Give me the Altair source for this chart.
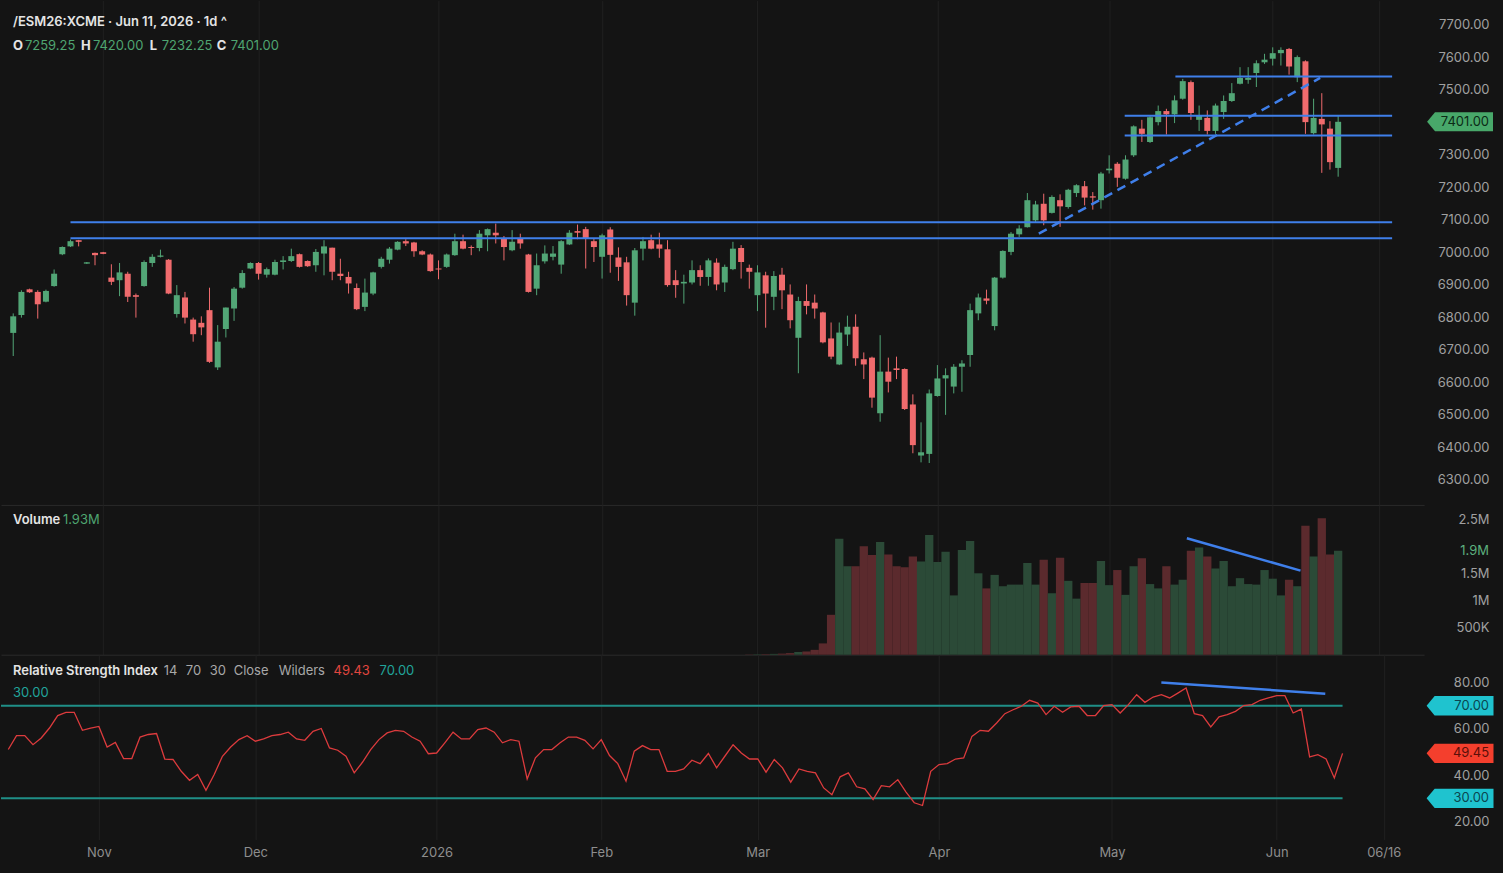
import altair as alt
import pandas as pd

# ---------------- data ----------------
opens = [6752, 6807, 6886, 6878, 6848, 6896, 6994, 7018, 7037, 6965,
         6998, 7000, 6922, 6914, 6934, 6868, 6896, 6967, 6986, 6977,
         6810, 6861, 6793, 6783, 6822, 6646, 6764, 6827, 6891, 6950,
         6967, 6931, 6931, 6970, 6973, 6994, 6973, 6960, 6996, 7014,
         6934, 6924, 6890, 6832, 6873, 6955, 6977, 7008, 7034, 7030,
         7003, 6993, 6950, 6955, 6991, 7034, 7016, 7013, 7052, 7060,
         7042, 7006, 7044, 6993, 6888, 6972, 6986, 6962, 7024, 7065,
         7071, 7034, 6986, 7070, 6984, 6969, 6845, 7011, 7037, 7024,
         7009, 6914, 6904, 6907, 6945, 6924, 6968, 6907, 6948, 7013,
         6952, 6868, 6929, 6863, 6931, 6870, 6737, 6850, 6845, 6815,
         6735, 6655, 6747, 6771, 6671, 6676, 6505, 6633, 6643, 6641,
         6532, 6375, 6380, 6558, 6612, 6587, 6648, 6684, 6812, 6858,
         6773, 6922, 7001, 7055, 7077, 7098, 7149, 7121, 7160, 7139,
         7182, 7203, 7172, 7160, 7252, 7272, 7226, 7298, 7380, 7339,
         7400, 7434, 7424, 7472, 7523, 7407, 7413, 7373, 7431, 7465,
         7518, 7530, 7551, 7584, 7595, 7612, 7625, 7538, 7587, 7366,
         7410, 7380, 7259.25]
highs = [6812, 6883, 6888, 6883, 6885, 6947, 7018, 7039, 7038, 6970,
         6999, 7001, 6963, 6967, 6940, 6873, 6975, 6994, 7008, 6979,
         6899, 6878, 6799, 6803, 6891, 6776, 6830, 6893, 6945, 6969,
         6970, 6953, 6977, 6988, 7011, 6996, 6975, 7010, 7037, 7014,
         6980, 6940, 6904, 6919, 6940, 6986, 7016, 7034, 7040, 7032,
         7006, 6996, 6975, 6996, 7057, 7054, 7021, 7068, 7073, 7088,
         7050, 7068, 7057, 6995, 6996, 7021, 7019, 7037, 7068, 7085,
         7078, 7042, 7057, 7077, 7015, 6986, 7013, 7047, 7054, 7060,
         7037, 6945, 6931, 6975, 6960, 6981, 6981, 6962, 7032, 7022,
         6962, 6960, 6940, 6942, 6952, 6901, 6863, 6901, 6870, 6817,
         6784, 6784, 6805, 6809, 6692, 6679, 6745, 6676, 6679, 6643,
         6563, 6477, 6578, 6653, 6643, 6656, 6668, 6842, 6873, 6885,
         6924, 7006, 7062, 7083, 7182, 7158, 7180, 7175, 7178, 7195,
         7209, 7219, 7185, 7247, 7298, 7277, 7298, 7390, 7407, 7418,
         7451, 7441, 7482, 7533, 7528, 7451, 7436, 7457, 7482, 7520,
         7569, 7569, 7590, 7610, 7630, 7630, 7628, 7605, 7590, 7472,
         7489, 7403, 7420.00]
lows = [6681, 6799, 6875, 6796, 6846, 6894, 6991, 7016, 7018, 6964,
        6960, 6994, 6899, 6865, 6847, 6799, 6894, 6955, 6984, 6871,
        6799, 6781, 6725, 6745, 6660, 6638, 6738, 6789, 6888, 6948,
        6916, 6922, 6929, 6947, 6970, 6953, 6955, 6940, 6929, 6914,
        6914, 6873, 6822, 6819, 6868, 6950, 6965, 7006, 7019, 6986,
        6991, 6940, 6917, 6952, 6989, 7009, 6991, 7003, 7003, 7027,
        6975, 7003, 7011, 6876, 6868, 6965, 6975, 6934, 7022, 7040,
        6950, 6970, 6919, 6937, 6912, 6836, 6805, 6975, 7009, 6983,
        6894, 6860, 6842, 6901, 6897, 6897, 6883, 6878, 6945, 6919,
        6888, 6819, 6768, 6822, 6825, 6766, 6628, 6809, 6796, 6720,
        6671, 6653, 6712, 6651, 6610, 6522, 6479, 6569, 6610, 6515,
        6382, 6354, 6352, 6556, 6500, 6566, 6571, 6648, 6791, 6840,
        6760, 6919, 6991, 7047, 7076, 7093, 7083, 7119, 7078, 7134,
        7170, 7144, 7131, 7134, 7242, 7201, 7223, 7293, 7339, 7336,
        7390, 7362, 7397, 7469, 7407, 7373, 7362, 7364, 7410, 7462,
        7516, 7518, 7508, 7579, 7574, 7574, 7546, 7523, 7364, 7362,
        7244, 7254, 7232.25]
closes = [6803, 6878, 6877, 6840, 6881, 6934, 7016, 7034, 7032, 6969,
          6991, 6995, 6909, 6938, 6863, 6863, 6970, 6986, 6990, 6873,
          6868, 6799, 6748, 6769, 6663, 6725, 6830, 6888, 6936, 6967,
          6934, 6948, 6970, 6975, 6988, 6955, 6957, 7001, 7018, 6940,
          6927, 6904, 6825, 6876, 6938, 6980, 7011, 7032, 7027, 7003,
          6993, 6942, 6947, 6993, 7034, 7011, 7013, 7057, 7071, 7052,
          7016, 7032, 7027, 6878, 6960, 6996, 6996, 7034, 7060, 7060,
          7042, 7016, 7052, 6992, 6955, 6868, 7006, 7034, 7011, 7011,
          6899, 6899, 6909, 6945, 6924, 6975, 6901, 6955, 7011, 6970,
          6940, 6938, 6873, 6927, 6883, 6791, 6850, 6835, 6827, 6723,
          6679, 6753, 6771, 6674, 6655, 6553, 6633, 6602, 6638, 6518,
          6407, 6385, 6566, 6612, 6622, 6648, 6658, 6822, 6861, 6851,
          6922, 7004, 7057, 7073, 7160, 7147, 7098, 7170, 7141, 7192,
          7206, 7168, 7168, 7242, 7257, 7229, 7285, 7387, 7364, 7415,
          7434, 7424, 7467, 7526, 7428, 7421, 7373, 7451, 7465, 7489,
          7536, 7536, 7581, 7592, 7612, 7622, 7571, 7600, 7400, 7413,
          7393, 7277, 7401.00]

vol_first_bar = 90
volumes_m = [0.005, 0.008, 0.01, 0.015, 0.02, 0.03, 0.05, 0.06, 0.09, 0.21,
             0.74, 2.15, 1.64, 1.64, 2.01, 1.85, 2.09, 1.86, 1.64, 1.62,
             1.82, 1.73, 2.22, 1.72, 1.91, 1.10, 1.94, 2.11, 1.51, 1.23,
             1.48, 1.27, 1.30, 1.30, 1.70, 1.30, 1.76, 1.14, 1.80, 1.37,
             1.04, 1.33, 1.33, 1.74, 1.29, 1.57, 1.11, 1.64, 1.79, 1.31,
             1.23, 1.64, 1.30, 1.39, 1.93, 1.99, 1.82, 1.60, 1.74, 1.27,
             1.42, 1.31, 1.30, 1.57, 1.41, 1.10, 1.39, 1.27, 2.39, 1.82,
             2.53, 1.86, 1.93]

rsi_values = [51.1, 57.1, 57.1, 53.2, 56.1, 60.4, 65.8, 67.2, 67.2, 59.4,
              60.4, 61.1, 52.2, 54.2, 47.2, 47.2, 56.5, 57.6, 58.0, 47.0,
              46.8, 41.7, 37.8, 40.3, 33.5, 40.3, 48.2, 52.2, 55.4, 57.1,
              54.7, 55.7, 57.1, 57.6, 58.6, 55.7, 55.1, 59.0, 60.2, 51.8,
              50.8, 48.2, 41.0, 45.6, 51.1, 55.4, 58.3, 59.4, 59.0, 56.5,
              54.7, 49.3, 49.6, 54.0, 58.6, 55.7, 55.7, 59.7, 60.4, 58.6,
              54.0, 55.4, 54.7, 38.4, 47.5, 51.1, 51.1, 54.0, 56.5, 56.5,
              55.1, 51.4, 55.4, 48.5, 45.0, 37.4, 50.4, 52.8, 51.1, 51.1,
              41.7, 41.7, 42.7, 46.5, 45.0, 49.4, 43.2, 48.2, 53.2, 49.6,
              47.0, 47.0, 41.3, 46.8, 43.2, 37.0, 42.7, 41.7, 41.0, 34.5,
              31.6, 39.3, 41.0, 35.0, 34.1, 29.5, 35.5, 35.0, 38.1, 32.7,
              28.1, 26.9, 41.7, 44.6, 45.0, 47.0, 47.5, 56.8, 59.4, 59.0,
              62.6, 66.6, 68.3, 69.8, 72.4, 71.2, 66.2, 69.8, 67.2, 69.5,
              69.8, 65.8, 65.8, 70.1, 70.5, 66.9, 70.5, 74.8, 71.5, 73.8,
              74.8, 73.4, 75.5, 77.7, 66.6, 65.8, 60.9, 65.2, 66.2, 67.6,
              70.1, 70.5, 72.4, 73.4, 74.4, 74.4, 66.9, 68.6, 47.9, 48.9,
              47.0, 38.8, 49.45]

tick_idx = [11, 30, 52, 72, 91, 113, 134, 154, 167]
tick_lbl = ["Nov", "Dec", "2026", "Feb", "Mar", "Apr", "May", "Jun", "06/16"]
price_ticks = [6300, 6400, 6500, 6600, 6700, 6800, 6900, 7000, 7100, 7200,
               7300, 7400, 7500, 7600, 7700]
vol_ticks = [500000, 1000000, 1500000, 2500000]
rsi_ticks = [20, 40, 60, 80]

# drawn support / resistance lines
level_price = [7540, 7420, 7359, 7092, 7043]
level_start = [142.1, 135.9, 135.9, 7.0, 7.0]
level_end = [168.6, 168.6, 168.6, 168.6, 168.6]
dash_x = [125.4, 159.8]
dash_p = [7057, 7536]
vol_trend_x = [143.5, 157.4]
vol_trend_v = [2.16e6, 1.56e6]
rsi_trend_x = [140.0, 159.9]
rsi_trend_v = [80.1, 75.2]
rsi_bands = [70, 30]

last_price = 7401.00
last_rsi = 49.45
last_vol = 1.93e6

# RSI header tokens and their x positions
rsi_params = ["14", "70", "30", "Close", "Wilders"]
rsi_params_x = [163, 185, 209, 233, 278]

# ---------------- styling ----------------
BG = "#141414"
UP = "#52a676"
DOWN = "#f06b6d"
VUP = "#2b4a37"
VDOWN = "#5b2a2d"
BLUE = "#3f7fea"
TEAL = "#1f8f87"
RSI_C = "#dc3b3d"
LBL = "#a0a0a0"
FONT = "Inter"

W = 1425
H_PRICE, H_VOL, H_RSI = 505, 150, 185
X_DOM = [-0.885, 171.9]

n = len(closes)
idx = list(range(n))
direction = ["up" if c >= o else "down" for o, c in zip(opens, closes)]
candles = pd.DataFrame({"i": idx, "open": opens, "high": highs, "low": lows,
                        "close": closes, "dir": direction})
vol_df = pd.DataFrame({"i": list(range(vol_first_bar, n)),
                       "vol": [v * 1e6 for v in volumes_m],
                       "dir": direction[vol_first_bar:]})
rsi_df = pd.DataFrame({"i": idx, "rsi": rsi_values})
levels_df = pd.DataFrame({"x0": level_start, "x1": level_end, "p": level_price})
dash_df = pd.DataFrame({"x0": [dash_x[0]], "x1": [dash_x[1]],
                        "p0": [dash_p[0]], "p1": [dash_p[1]]})
vtrend_df = pd.DataFrame({"x0": [vol_trend_x[0]], "x1": [vol_trend_x[1]],
                          "v0": [vol_trend_v[0]], "v1": [vol_trend_v[1]]})
rtrend_df = pd.DataFrame({"x0": [rsi_trend_x[0]], "x1": [rsi_trend_x[1]],
                          "v0": [rsi_trend_v[0]], "v1": [rsi_trend_v[1]]})
bands_df = pd.DataFrame({"x0": [X_DOM[0]] * 2, "x1": [n - 1] * 2, "v": rsi_bands})

xscale = alt.Scale(domain=X_DOM, nice=False, zero=False)
x_label_expr = " : ".join(f"datum.value == {i} ? '{l}'" for i, l in zip(tick_idx, tick_lbl)) + " : ''"

x_axis_hidden = alt.Axis(values=tick_idx, labels=False, ticks=False, tickSize=0,
                         domain=True, domainColor="#2a2a2a", domainWidth=1,
                         grid=True, gridColor="#202020", gridWidth=1, title=None)
x_axis_bottom = alt.Axis(values=tick_idx, labelExpr=x_label_expr, ticks=False, tickSize=0,
                         domain=False, grid=True, gridColor="#202020", gridWidth=1,
                         labelColor="#8e8e8e", labelFontSize=13, labelFont=FONT,
                         labelPadding=13, labelBaseline="middle", labelAngle=0,
                         labelFlush=False, labelOverlap=False, title=None)


def yaxis(values, fmt=None, expr=None):
    kw = dict(values=values, orient="right", grid=False, domain=False, ticks=False,
              tickSize=0, labelAlign="right", labelPadding=65, labelColor=LBL,
              labelFontSize=13, labelFont=FONT, title=None, labelOverlap=False,
              labelFlush=False)
    if fmt:
        kw["format"] = fmt
    if expr:
        kw["labelExpr"] = expr
    return alt.Axis(**kw)


def text_at(txt, x, y, color, size=13, weight="normal", align="left"):
    return alt.Chart(pd.DataFrame({"t": [txt]})).mark_text(
        align=align, baseline="middle", font=FONT, fontSize=size,
        fontWeight=weight, color=color
    ).encode(x=alt.value(x), y=alt.value(y), text="t:N")


TAG_PATH = "M -1 0 L -0.76 -0.29 L 1 -0.29 L 1 0.29 L -0.76 0.29 Z"

# ---------------- price panel ----------------
pscale = alt.Scale(domain=[6223.2, 7773.7], nice=False, zero=False)
p_axis = yaxis(price_ticks, fmt=".2f")
X_P = alt.X("i:Q", scale=xscale, axis=x_axis_hidden)
cscale = alt.Scale(domain=["up", "down"], range=[UP, DOWN])

wicks = alt.Chart(candles).mark_rule(strokeWidth=1).encode(
    x=X_P, y=alt.Y("low:Q", scale=pscale, axis=p_axis), y2="high:Q",
    color=alt.Color("dir:N", scale=cscale, legend=None))
bodies = alt.Chart(candles).mark_bar(size=6).encode(
    x=X_P, y=alt.Y("open:Q", scale=pscale, axis=p_axis), y2="close:Q",
    color=alt.Color("dir:N", scale=cscale, legend=None))
level_lines = alt.Chart(levels_df).mark_rule(color=BLUE, strokeWidth=2).encode(
    x=alt.X("x0:Q", scale=xscale, axis=x_axis_hidden), x2="x1:Q",
    y=alt.Y("p:Q", scale=pscale, axis=p_axis))
dash_line = alt.Chart(dash_df).mark_rule(color=BLUE, strokeWidth=2.5, strokeDash=[9, 6]).encode(
    x=alt.X("x0:Q", scale=xscale, axis=x_axis_hidden), x2="x1:Q",
    y=alt.Y("p0:Q", scale=pscale, axis=p_axis), y2="p1:Q")
ptag_df = pd.DataFrame({"v": [last_price], "t": [f"{last_price:.2f}"]})
ptag = alt.Chart(ptag_df).mark_point(shape=TAG_PATH, size=66 * 66, filled=True,
                                     color="#48a86a", opacity=1, strokeWidth=0).encode(
    x=alt.value(1461), y=alt.Y("v:Q", scale=pscale, axis=p_axis))
ptag_text = alt.Chart(ptag_df).mark_text(align="right", baseline="middle", font=FONT,
                                         fontSize=13, color="#0b2a16").encode(
    x=alt.value(1490), y=alt.Y("v:Q", scale=pscale, axis=p_axis), text="t:N")

hdr = [
    text_at("/ESM26:XCME · Jun 11, 2026 · 1d ^", 12, 21, "#e4e4e4", 13, 600),
    text_at("O", 12, 45, "#e4e4e4", 13, 700),
    text_at("7259.25", 24, 45, "#4fa571"),
    text_at("H", 80, 45, "#e4e4e4", 13, 700),
    text_at("7420.00", 92, 45, "#4fa571"),
    text_at("L", 149, 45, "#e4e4e4", 13, 700),
    text_at("7232.25", 161, 45, "#4fa571"),
    text_at("C", 216, 45, "#e4e4e4", 13, 700),
    text_at("7401.00", 230, 45, "#4fa571"),
]

price_panel = alt.layer(wicks, bodies, level_lines, dash_line, ptag, ptag_text, *hdr).properties(
    width=W, height=H_PRICE)

# ---------------- volume panel ----------------
vscale = alt.Scale(domain=[0, 2.778e6], nice=False, zero=True)
v_axis = yaxis(vol_ticks, expr="datum.value >= 1000000 ? (datum.value/1000000) + 'M' : (datum.value/1000) + 'K'")
vcscale = alt.Scale(domain=["up", "down"], range=[VUP, VDOWN])
vbars = alt.Chart(vol_df).mark_bar(size=8.3).encode(
    x=alt.X("i:Q", scale=xscale, axis=x_axis_hidden),
    y=alt.Y("vol:Q", scale=vscale, axis=v_axis),
    color=alt.Color("dir:N", scale=vcscale, legend=None))
vtrend = alt.Chart(vtrend_df).mark_rule(color=BLUE, strokeWidth=2.5).encode(
    x=alt.X("x0:Q", scale=xscale, axis=x_axis_hidden), x2="x1:Q",
    y=alt.Y("v0:Q", scale=vscale, axis=v_axis), y2="v1:Q")
vlast_df = pd.DataFrame({"v": [last_vol], "t": ["1.9M"]})
vlast = alt.Chart(vlast_df).mark_text(align="right", baseline="middle", font=FONT,
                                      fontSize=13, color="#5cb07e").encode(
    x=alt.value(1490), y=alt.Y("v:Q", scale=vscale, axis=v_axis), text="t:N")
vol_panel = alt.layer(
    vbars, vtrend, vlast,
    text_at("Volume", 12, 15, "#e4e4e4", 13, 600),
    text_at("1.93M", 62, 15, "#4fa571"),
).properties(width=W, height=H_VOL)

# ---------------- RSI panel ----------------
rscale = alt.Scale(domain=[12.23, 92.09], nice=False, zero=False)
r_axis = yaxis(rsi_ticks, fmt=".2f")
X_R = alt.X("i:Q", scale=xscale, axis=x_axis_bottom)
bands = alt.Chart(bands_df).mark_rule(color=TEAL, strokeWidth=2).encode(
    x=alt.X("x0:Q", scale=xscale, axis=x_axis_bottom), x2="x1:Q",
    y=alt.Y("v:Q", scale=rscale, axis=r_axis))
rsi_line = alt.Chart(rsi_df).mark_line(color=RSI_C, strokeWidth=1.3).encode(
    x=X_R, y=alt.Y("rsi:Q", scale=rscale, axis=r_axis))
rtrend = alt.Chart(rtrend_df).mark_rule(color=BLUE, strokeWidth=2.5).encode(
    x=alt.X("x0:Q", scale=xscale, axis=x_axis_bottom), x2="x1:Q",
    y=alt.Y("v0:Q", scale=rscale, axis=r_axis), y2="v1:Q")
rtags_df = pd.DataFrame({"v": [70, last_rsi, 30],
                         "t": ["70.00", f"{last_rsi:.2f}", "30.00"],
                         "k": ["band", "rsi", "band"]})
rtags = alt.Chart(rtags_df).mark_point(shape=TAG_PATH, size=67 * 67, filled=True,
                                       opacity=1, strokeWidth=0).encode(
    x=alt.value(1461), y=alt.Y("v:Q", scale=rscale, axis=r_axis),
    color=alt.Color("k:N", scale=alt.Scale(domain=["band", "rsi"], range=["#1fc3cf", "#f43f2d"]), legend=None))
rtags_text = alt.Chart(rtags_df).mark_text(align="right", baseline="middle", font=FONT,
                                           fontSize=13).encode(
    x=alt.value(1490), y=alt.Y("v:Q", scale=rscale, axis=r_axis), text="t:N",
    color=alt.Color("k:N", scale=alt.Scale(domain=["band", "rsi"], range=["#0a4650", "#5a0f0a"]), legend=None))
rsi_hdr = [
    text_at("Relative Strength Index", 12, 16, "#e4e4e4", 13, 600),
    *[text_at(t, xp, 16, "#a8a8a8") for t, xp in zip(rsi_params, rsi_params_x)],
    text_at("49.43", 333, 16, "#e0463f"),
    text_at("70.00", 379, 16, "#21a49b"),
    text_at("30.00", 12, 38, "#21a49b"),
]
rsi_panel = alt.layer(bands, rsi_line, rtrend, rtags, rtags_text, *rsi_hdr).resolve_scale(
    color="independent").properties(width=W, height=H_RSI)

chart = alt.vconcat(price_panel, vol_panel, rsi_panel, spacing=0).resolve_scale(
    color="independent"
).properties(
    padding={"left": 0, "top": 0, "right": 9, "bottom": 13},
    background=BG,
).configure_view(stroke=None).configure_text(font=FONT)

chart.save("out.html", embed_options={"renderer": "svg", "actions": False})
